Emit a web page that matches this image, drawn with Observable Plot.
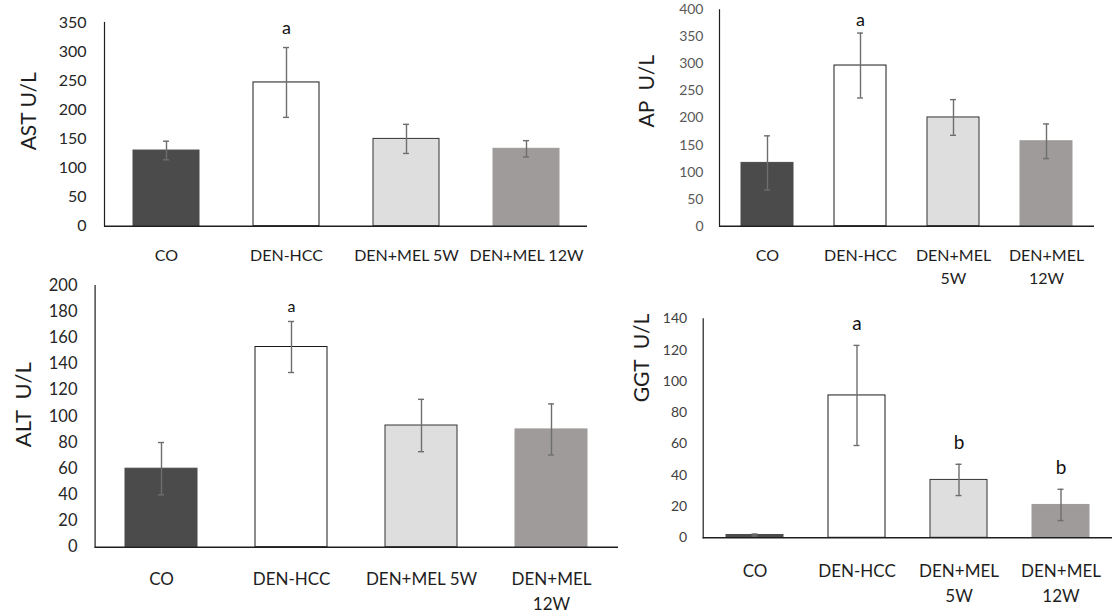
<!DOCTYPE html>
<html><head><meta charset="utf-8">
<script src="https://cdn.jsdelivr.net/npm/d3@7"></script>
<script src="https://cdn.jsdelivr.net/npm/@observablehq/plot@0.6"></script>
<style>
body{margin:0;background:#fff;}
#wrap{position:relative;width:1112px;height:612px;overflow:hidden;font-family:Lato,sans-serif;}
.p{position:absolute;}
</style></head><body><div id="wrap"></div>
<script>
// categories
const groups = ["CO", "DEN-HCC", "DEN+MEL 5W", "DEN+MEL 12W"];
const labelsOneLine = ["CO", "DEN-HCC", "DEN+MEL 5W", "DEN+MEL 12W"];
const labelsWrapped = ["CO", "DEN-HCC", "DEN+MEL\n5W", "DEN+MEL\n12W"];
const labelsAlt = ["CO", "DEN-HCC", "DEN+MEL 5W", "DEN+MEL\n12W"];

// series values (mean and SD)
const astMean = [130, 247, 150, 133];
const astSd   = [16, 60, 25, 14];
const apMean  = [117, 297, 201, 157];
const apSd    = [50, 60, 33, 32];
const altMean = [60, 153, 93, 90];
const altSd   = [20, 19.5, 20, 19.5];
const ggtMean = [1.8, 91, 37, 21];
const ggtSd   = [0.6, 32, 10, 10];

// significance letters
const astLetters = ["", "a", "", ""];
const apLetters  = ["", "a", "", ""];
const altLetters = ["", "a", "", ""];
const ggtLetters = ["", "a", "b", "b"];

// y tick labels
const astTicks = [0, 50, 100, 150, 200, 250, 300, 350];
const apTicks  = [0, 50, 100, 150, 200, 250, 300, 350, 400];
const altTicks = [0, 20, 40, 60, 80, 100, 120, 140, 160, 180, 200];
const ggtTicks = [0, 20, 40, 60, 80, 100, 120, 140];

// styles
const barFills   = ["#4b4b4b", "#ffffff", "#dedede", "#9e9b9a"];
const barStrokes = ["#4b4b4b", "#1a1a1a", "#333333", "#9e9b9a"];

function panel(cfg) {
  const data = groups.map((g, i) => ({
    g, v: cfg.mean[i], lo: cfg.mean[i] - cfg.sd[i], hi: cfg.mean[i] + cfg.sd[i], letter: cfg.letters[i]
  }));
  const labelOf = Object.fromEntries(groups.map((g, i) => [g, cfg.labels[i]]));
  const errColor = "#6e6e6e";
  const svg = Plot.plot({
    width: cfg.width, height: cfg.height,
    marginLeft: cfg.ml, marginRight: cfg.mr, marginTop: cfg.mt, marginBottom: cfg.mb,
    style: {background: "transparent", overflow: "visible", fontFamily: "Lato, sans-serif"},
    x: {domain: groups, paddingInner: cfg.padInner, paddingOuter: cfg.padInner / 2, axis: null},
    y: {domain: [0, cfg.yMax], axis: null},
    marks: [
      Plot.barY(data, {x: "g", y: "v", fill: (d, i) => barFills[i], stroke: (d, i) => barStrokes[i], strokeWidth: 1}),
      Plot.ruleX(data, {x: "g", y1: "lo", y2: "hi", stroke: errColor, strokeWidth: 1.4}),
      Plot.tickY(data, {x: "g", y: "hi", stroke: errColor, strokeWidth: 1.4, insetLeft: cfg.capInset, insetRight: cfg.capInset}),
      Plot.tickY(data, {x: "g", y: "lo", stroke: errColor, strokeWidth: 1.4, insetLeft: cfg.capInset, insetRight: cfg.capInset}),
      Plot.ruleY([0], {stroke: "#1e1e1e", strokeWidth: 1.6}),
      Plot.frame({anchor: "left", stroke: "#1e1e1e", strokeWidth: 1.2}),
      Plot.axisY({ticks: cfg.ticks, tickSize: 0, tickPadding: cfg.yPad, fontSize: cfg.tickFont, fill: cfg.tickColor, label: null, tickFormat: d => String(d)}),
      Plot.axisX({tickSize: 0, tickPadding: cfg.xPad, fontSize: cfg.xFont, lineHeight: cfg.lh, tickFormat: g => labelOf[g], label: null, fill: "#1e1e1e"}),
      Plot.text(data, {x: "g", y: "hi", text: "letter", dy: cfg.letterDy, fontSize: cfg.letterFont, fill: "#111"}),
      Plot.text([cfg.yLabel], {frameAnchor: "left", rotate: -90, dx: cfg.labDx, dy: cfg.labDy, fontSize: cfg.labFont, fill: "#1e1e1e"})
    ]
  });
  const div = document.createElement("div");
  div.className = "p";
  div.style.left = cfg.left + "px";
  div.style.top = cfg.top + "px";
  div.appendChild(svg);
  document.getElementById("wrap").appendChild(div);
}

panel({left: 0, top: 0, width: 600, height: 265, ml: 104, mr: 13, mt: 22, mb: 39.3,
  mean: astMean, sd: astSd, letters: astLetters, labels: labelsOneLine, ticks: astTicks, yMax: 350,
  padInner: 0.453, capInset: 30, yPad: 18, tickFont: 16, tickColor: "#262626", xPad: 18.5, xFont: 16, lh: 1.45,
  letterDy: -19, letterFont: 18, yLabel: "AST U/L", labDx: -75.4, labDy: 26, labFont: 21});

panel({left: 590, top: 0, width: 522, height: 290, ml: 129, mr: 18, mt: 9.3, mb: 64.3,
  mean: apMean, sd: apSd, letters: apLetters, labels: labelsWrapped, ticks: apTicks, yMax: 400,
  padInner: 0.445, capInset: 23, yPad: 16, tickFont: 14, tickColor: "#595959", xPad: 18.5, xFont: 16, lh: 1.44,
  letterDy: -13, letterFont: 18, yLabel: "AP  U/L", labDx: -72.3, labDy: 9.5, labFont: 21});

panel({left: 0, top: 270, width: 630, height: 342, ml: 94.6, mr: 12, mt: 15, mb: 65.3,
  mean: altMean, sd: altSd, letters: altLetters, labels: labelsAlt, ticks: altTicks, yMax: 200,
  padInner: 0.443, capInset: 33, yPad: 17.6, tickFont: 16.5, tickColor: "#262626", xPad: 20, xFont: 17, lh: 1.47,
  letterDy: -15, letterFont: 16, yLabel: "ALT  U/L", labDx: -71.6, labDy: 30.8, labFont: 22});

panel({left: 590, top: 300, width: 522, height: 312, ml: 112.7, mr: 0, mt: 18.3, mb: 74.7,
  mean: ggtMean, sd: ggtSd, letters: ggtLetters, labels: labelsWrapped, ticks: ggtTicks, yMax: 140,
  padInner: 0.443, capInset: 25.5, yPad: 16, tickFont: 14, tickColor: "#404040", xPad: 21.6, xFont: 17, lh: 1.47,
  letterDy: -21, letterFont: 19, yLabel: "GGT  U/L", labDx: -61, labDy: -26, labFont: 21});
</script></body></html>
